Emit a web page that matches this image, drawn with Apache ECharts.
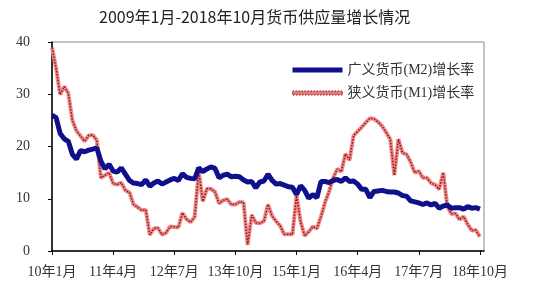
<!DOCTYPE html>
<html>
<head>
<meta charset="utf-8">
<script src="https://cdn.jsdelivr.net/npm/echarts@6/dist/echarts.min.js"></script>
<style>
  html, body { margin: 0; padding: 0; background: #fff; }
  #chart { width: 548px; height: 304px; }
</style>
</head>
<body>
<div id="chart"></div>
<script>
var titleText = "2009年1月-2018年10月货币供应量增长情况";
var m2Name = "广义货币(M2)增长率";
var m1Name = "狭义货币(M1)增长率";

// monthly year-on-year growth, 2010-01 .. 2018-10 (%)
var m2Rates = [
    25.98, 25.52, 22.5, 21.48, 21.0, 18.5, 17.6, 19.2, 19.0, 19.3, 19.5, 19.72,
    17.2, 15.7, 16.6, 15.3, 15.1, 15.9, 14.7, 13.5, 13.0, 12.9, 12.7, 13.6,
    12.4, 13.0, 13.4, 12.8, 13.2, 13.6, 13.9, 13.5, 14.8, 14.1, 13.9, 13.8,
    15.9, 15.2, 15.7, 16.1, 15.8, 14.0, 14.5, 14.7, 14.2, 14.3, 14.2, 13.6,
    13.2, 13.3, 12.1, 13.2, 13.4, 14.7, 13.5, 12.8, 12.9, 12.6, 12.3, 12.2,
    10.8, 12.5, 11.6, 10.1, 10.8, 10.2, 13.3, 13.3, 13.1, 13.5, 13.7, 13.3,
    14.0, 13.3, 13.4, 12.8, 11.8, 11.8, 10.2, 11.4, 11.5, 11.6, 11.4, 11.3,
    11.3, 11.1, 10.6, 10.5, 9.6, 9.4, 9.2, 8.9, 9.2, 8.8, 9.1, 8.2,
    8.6, 8.8, 8.2, 8.3, 8.3, 8.0, 8.5, 8.2, 8.3, 8.0
];
var m1Rates = [
    38.96, 34.99, 29.94, 31.5, 30.2, 25.0, 23.0, 22.0, 21.0, 22.1, 22.2, 21.2,
    14.0, 14.5, 15.0, 12.9, 12.7, 13.1, 11.6, 11.2, 8.9, 8.4, 7.8, 7.9,
    3.1, 4.3, 4.4, 3.1, 3.5, 4.7, 4.6, 4.5, 7.3, 6.1, 5.5, 6.5,
    15.3, 9.5, 11.9, 11.9, 11.3, 9.1, 9.7, 9.9, 8.9, 8.9, 9.4, 9.3,
    1.2, 6.9, 5.4, 5.3, 5.7, 8.9, 6.7, 5.7, 4.8, 3.2, 3.2, 3.2,
    10.6, 5.6, 2.9, 3.7, 4.7, 4.3, 6.6, 9.3, 11.4, 14.0, 15.7, 15.2,
    18.6, 17.4, 22.1, 22.9, 23.7, 24.6, 25.4, 25.3, 24.7, 23.9, 22.7, 21.4,
    14.5, 21.4, 18.8, 18.5, 17.0, 15.0, 15.3, 14.0, 14.0, 13.0, 12.7, 11.8,
    15.0, 8.5, 7.1, 7.2, 6.0, 6.6, 5.1, 3.9, 4.0, 2.7
];
var yTicks = [0, 10, 20, 30, 40];

// month categories 10年1月 .. 18年10月, plus one blank slot at the right edge
var months = [];
for (var y = 2010; y <= 2018; y++) {
    for (var m = 1; m <= 12; m++) {
        if (y === 2018 && m > 10) break;
        months.push(String(y).slice(2) + "年" + m + "月");
    }
}
months.push("");

// a label and tick every 15 months
var every15 = (index) => index % 15 === 0 && index < m2Rates.length;

var labelFont = "'Liberation Serif', 'Noto Sans CJK SC', serif";

var chart = echarts.init(document.getElementById('chart'));

chart.setOption({
    animation: false,
    backgroundColor: '#fff',
    title: {
        text: titleText,
        left: 94,
        top: 4,
        textStyle: {
            fontFamily: "'Noto Sans CJK SC', sans-serif",
            fontSize: 16,
            fontWeight: 'normal',
            color: '#222'
        }
    },
    legend: {
        orient: 'vertical',
        left: 287,
        top: 58,
        itemWidth: 50,
        itemHeight: 14,
        itemGap: 9,
        textStyle: {
            fontFamily: labelFont,
            fontSize: 14,
            color: '#333'
        },
        data: [
            { name: m2Name, icon: 'path://M0,0 L50,0 L50,5 L0,5 Z', itemStyle: { color: '#10108c' } },
            { name: m1Name, icon: 'path://M0,0 L50,0 L50,4 L0,4 Z', itemStyle: { color: '#e57c7c', borderColor: '#8e2020', borderWidth: 1, borderType: [1.5, 1.5] } }
        ]
    },
    grid: {
        left: 52,
        right: 64,
        top: 42,
        bottom: 53,
        show: true,
        borderColor: '#888',
        borderWidth: 1,
        backgroundColor: 'transparent'
    },
    xAxis: {
        type: 'category',
        data: months,
        boundaryGap: false,
        axisLine: { lineStyle: { color: '#000', width: 1.5 } },
        axisTick: { interval: every15, length: 4, lineStyle: { color: '#000' } },
        axisLabel: {
            interval: every15,
            margin: 14,
            fontFamily: labelFont,
            fontSize: 14,
            color: '#333'
        },
        splitLine: { show: false }
    },
    yAxis: {
        type: 'value',
        min: yTicks[0],
        max: yTicks[yTicks.length - 1],
        interval: 10,
        axisLine: { show: true, lineStyle: { color: '#000', width: 1.5 } },
        axisTick: { show: true, length: 4, lineStyle: { color: '#000' } },
        axisLabel: {
            margin: 22,
            fontFamily: labelFont,
            fontSize: 14,
            color: '#333'
        },
        splitLine: { show: false }
    },
    series: [
        {
            name: m1Name,
            type: 'line',
            data: m1Rates,
            symbol: 'none',
            z: 2,
            lineStyle: { color: '#f08888', width: 4 },
            itemStyle: { color: '#e57c7c' }
        },
        {
            name: 'm1-dots',
            type: 'line',
            data: m1Rates,
            symbol: 'none',
            z: 3,
            lineStyle: { color: '#801515', width: 1.4, type: [1.5, 1.5] }
        },
        {
            name: m2Name,
            type: 'line',
            data: m2Rates,
            symbol: 'none',
            z: 4,
            lineStyle: { color: '#10108c', width: 5 },
            itemStyle: { color: '#10108c' }
        }
    ]
});
</script>
</body>
</html>
